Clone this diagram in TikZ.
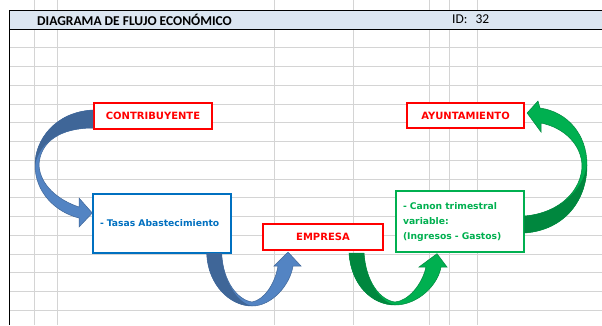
\documentclass[tikz,border=0pt]{standalone}
\usepackage{fontspec}
\newfontfamily\comicfont{DejaVu Sans}
\newfontfamily\sheetfont{Carlito}
\usetikzlibrary{positioning,calc}
\definecolor{bandblue}{HTML}{DCE6F1}
\definecolor{gridgray}{HTML}{D4D4D4}
\definecolor{boxred}{HTML}{FF0000}
\definecolor{boxblue}{HTML}{0070C0}
\definecolor{boxgreen}{HTML}{00B050}
\definecolor{arrowblue}{HTML}{5384C3}
\definecolor{arrowbluedark}{HTML}{3F6698}
\definecolor{arrowgreen}{HTML}{00B050}
\definecolor{arrowgreendark}{HTML}{00873E}

\begin{document}
\begin{tikzpicture}[x=1pt, y=-1pt,
    redbox/.style = {draw=boxred, line width=2.2pt, fill=white, text=boxred, inner sep=0pt,
                     font=\comicfont\bfseries\fontsize{10}{12}\selectfont},
    notebox/.style = {draw, line width=1.4pt, fill=white, inner xsep=7pt, inner ysep=0pt, align=left,
                      font=\comicfont\bfseries\fontsize{9.2}{15}\selectfont},
    bluearrow/.style = {fill=arrowblue, draw=arrowbluedark, line width=0.5pt},
    greenarrow/.style = {fill=arrowgreen, draw=arrowgreendark, line width=0.5pt}]
  \useasboundingbox (0,0) rectangle (602,325);
  \fill[white] (0,0) rectangle (602,325);

  % sheet grid and title row
  \foreach \k in {1,...,15}
    \draw[gridgray, line width=0.8pt] (9,29+18.75*\k) -- (602,29+18.75*\k);
  \foreach \x in {34,57,274,353,429,449,477} {
    \draw[gridgray, line width=0.8pt] (\x,0) -- (\x,10);
    \draw[gridgray, line width=0.8pt] (\x,29) -- (\x,325);
  }
  \fill[bandblue] (9,10) rectangle (602,29);
  \draw[line width=1pt] (602,10) -- (9,10) -- (9,325);
  \draw[line width=1pt] (9,29) -- (602,29);
  \node[anchor=west, inner sep=0pt, font=\sheetfont\bfseries\fontsize{13.5}{15}\selectfont] (title) at (37,19.5) {DIAGRAMA DE FLUJO ECONÓMICO};
  \node[anchor=west, inner sep=0pt, font=\sheetfont\fontsize{13.5}{15}\selectfont] (id) at (452,19.5) {ID:\hspace{8pt}32};

  % boxes
  \node[redbox, minimum width=118pt, minimum height=26pt] (contrib) at (153,116) {CONTRIBUYENTE};
  \node[notebox, draw=boxblue, text=boxblue, text width=124pt, minimum height=59pt] (tasas) at (162,223.5) {- Tasas Abastecimiento};
  \node[redbox, minimum width=120pt, minimum height=26pt] (empresa) at (323,237) {EMPRESA};
  \node[redbox, minimum width=117pt, minimum height=25pt] (ayto) at (465.5,115.5) {AYUNTAMIENTO};
  \node[notebox, draw=boxgreen, text=boxgreen, text width=114pt, minimum height=61pt] (canon) at (460,221.5) {- Canon trimestral\\variable:\\(Ingresos - Gastos)};

  % curved arrows
  \path[bluearrow] ([yshift=6pt]contrib.west) .. controls (55,112) and (35,140) .. (35,165)
    .. controls (35,192) and (55,212) .. (79,218) -- (79,227) -- ([yshift=10.5pt]tasas.west) -- (79,198) -- (79,207)
    .. controls (58,200) and (40,185) .. (39,165) .. controls (40,142) and (60,128) .. ([yshift=-12pt]contrib.west) -- cycle;
  \fill[arrowbluedark] ([yshift=6pt]contrib.west) .. controls (55,112) and (35,140) .. (35,165)
    .. controls (40,142) and (60,128) .. ([yshift=-12pt]contrib.west) -- cycle;

  \path[bluearrow] ([xshift=-25pt]tasas.south east) .. controls (208,285) and (230,306) .. (252,306)
    .. controls (272,306) and (290,285) .. (293,266) -- (301,266) -- ([xshift=-35pt,yshift=-1pt]empresa.south) -- (274,266) -- (278,266)
    .. controls (275,284) and (264,300) .. (252,302) .. controls (238,300) and (223,282) .. ([xshift=-10pt]tasas.south east) -- cycle;
  \fill[arrowbluedark] ([xshift=-25pt]tasas.south east) .. controls (208,285) and (230,306) .. (252,306)
    .. controls (238,303) and (223,282) .. ([xshift=-10pt]tasas.south east) -- cycle;

  \path[greenarrow] ([xshift=26pt,yshift=-2pt]empresa.south) .. controls (351,285) and (372,305) .. (395,305)
    .. controls (418,305) and (438,285) .. (441,267) -- (447,267) -- ([xshift=-23pt,yshift=-1pt]canon.south) -- (419,267) -- (426,267)
    .. controls (422,285) and (408,301) .. (395,302) .. controls (380,300) and (366,282) .. ([xshift=41pt,yshift=-2pt]empresa.south) -- cycle;
  \fill[arrowgreendark] ([xshift=26pt,yshift=-2pt]empresa.south) .. controls (351,285) and (372,305) .. (395,305)
    .. controls (380,302) and (366,282) .. ([xshift=41pt,yshift=-2pt]empresa.south) -- cycle;

  \path[greenarrow] ([yshift=-11.5pt]canon.east) .. controls (565,230) and (587,200) .. (587,165)
    .. controls (587,135) and (568,112) .. (540,108) -- (538,101) -- ([xshift=2pt,yshift=2.5pt]ayto.east) -- (541,132) -- (541,123)
    .. controls (565,128) and (581,145) .. (582,165) .. controls (582,190) and (560,213) .. ([yshift=5.5pt]canon.east) -- cycle;
  \fill[arrowgreendark] ([yshift=-11.5pt]canon.east) .. controls (565,230) and (587,200) .. (587,165)
    .. controls (583,190) and (560,213) .. ([yshift=5.5pt]canon.east) -- cycle;
\end{tikzpicture}
\end{document}
